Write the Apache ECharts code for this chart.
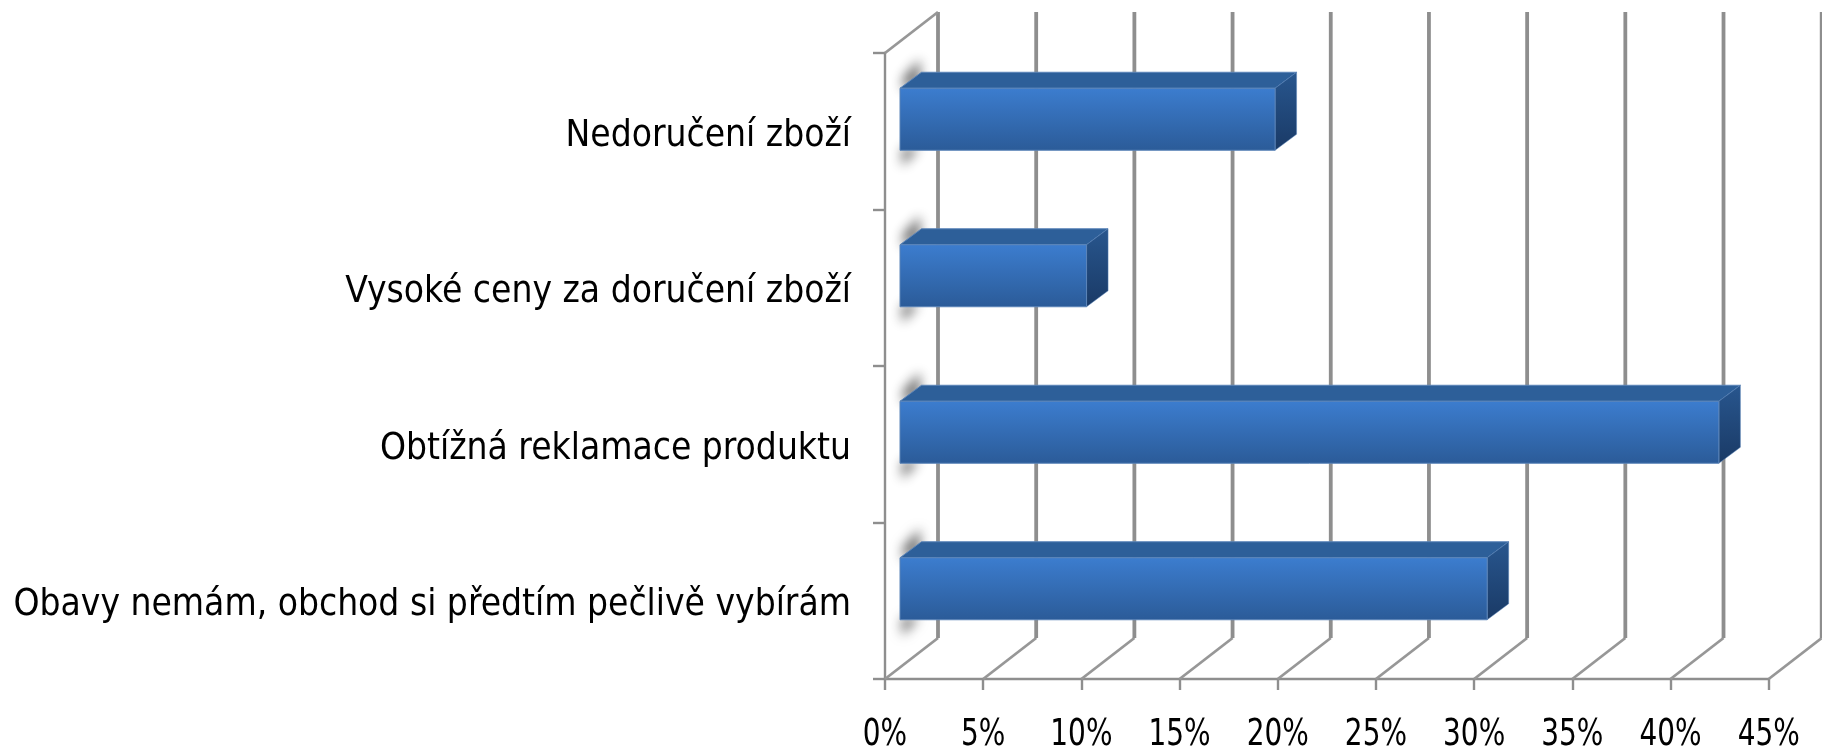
<!DOCTYPE html>
<html><head><meta charset="utf-8">
<style>html,body{margin:0;padding:0;background:#fff}#c{width:1822px;height:752px}</style>
<script src="https://cdn.jsdelivr.net/npm/echarts@6/dist/echarts.min.js"></script>
</head><body><div id="c"></div>
<script>
const categories = ['Obavy nemám, obchod si předtím pečlivě vybírám','Obtížná reklamace produktu','Vysoké ceny za doručení zboží','Nedoručení zboží'];
const values = [29.9, 41.7, 9.5, 19.1];
const xTicks = [0,5,10,15,20,25,30,35,40,45];

const WALL_DX = 53, WALL_DY = -41;      // depth of the pseudo-3D back wall
const BAR_DX = 15, BAR_DY = -12;        // bars sit inside that depth
const TOP_DX = 21.5, TOP_DY = -16;      // depth of each bar
const BAR_H = 62;
const GRID = '#8e8e8e';
const FONT = '"DejaVu Sans Condensed"';
const OFF = 3000;                       // shape off-canvas, only its blurred shadow shows

const chart = echarts.init(document.getElementById('c'));

function wall(params, api) {
  const v = api.value(0);
  const p = api.coord([v, 0]);
  const top = api.coord([v, 3]);
  const band = api.size([0, 1])[1];
  const x = p[0], yBottom = p[1] + band / 2, yTop = top[1] - band / 2;
  const children = [
    {type:'line',shape:{x1:x,y1:yBottom,x2:x+WALL_DX,y2:yBottom+WALL_DY},style:{stroke:'#979797',lineWidth:2.8}},
    {type:'line',shape:{x1:x+WALL_DX,y1:yBottom+WALL_DY,x2:x+WALL_DX,y2:yTop+WALL_DY},style:{stroke:GRID,lineWidth:3.8}},
    {type:'text',x:x,y:yBottom+56,scaleX:0.84,originX:0,originY:0,
      style:{text:v+'%',x:0,y:0,align:'center',verticalAlign:'middle',fill:'#000',font:'37px '+FONT}}
  ];
  if (v === 0) {
    children.push({type:'line',shape:{x1:x,y1:yTop,x2:x+WALL_DX,y2:yTop+WALL_DY},style:{stroke:'#979797',lineWidth:2.8}});
  }
  return {type:'group',children};
}

function bar(params, api) {
  const idx = api.value(1);
  const s = api.coord([0, idx]);
  const e = api.coord([api.value(0), idx]);
  const x0 = s[0] + BAR_DX, x1 = e[0] + BAR_DX;
  const yc = s[1] + BAR_DY, y0 = yc - BAR_H/2, y1 = yc + BAR_H/2;
  const vert = (a,b)=>({type:'linear',x:0,y:0,x2:0,y2:1,colorStops:[{offset:0,color:a},{offset:1,color:b}]});
  const soft = {fill:'#000',shadowBlur:12,shadowOffsetX:OFF,shadowColor:'rgba(105,105,105,0.95)'};
  const shifted = pts=>pts.map(q=>[q[0]-OFF,q[1]]);
  return {type:'group',children:[
    {type:'polygon',shape:{points:shifted([[x0+3,y0+2],[x0+3,y0-11],[x0+20,y0-29],[x0+20,y0-6]])},style:soft},
    {type:'polygon',shape:{points:shifted([[x0+2,y1-2],[x0+19,y1-2],[x0+2,y1+16]])},style:soft},
    {type:'polygon',shape:{points:[[x0,y0],[x0+TOP_DX,y0+TOP_DY],[x1+TOP_DX,y0+TOP_DY],[x1,y0]]},
      style:{fill:'#2d5f99',stroke:'#5b84b8',lineWidth:1}},
    {type:'polygon',shape:{points:[[x1,y0],[x1+TOP_DX,y0+TOP_DY],[x1+TOP_DX,y1+TOP_DY],[x1,y1]]},
      style:{fill:vert('#28568e','#1a3a66'),stroke:'#5b84b8',lineWidth:0.5}},
    {type:'rect',shape:{x:x0,y:y0,width:x1-x0,height:BAR_H},
      style:{fill:vert('#3c7dcf','#2b5b98'),stroke:'#5b84b8',lineWidth:1}}
  ]};
}

chart.setOption({
  animation:false,
  backgroundColor:'#fff',
  grid:{left:885,top:53,width:883.7,height:626,containLabel:false},
  xAxis:{type:'value',min:0,max:45,interval:5,
    axisLine:{show:true,lineStyle:{color:GRID,width:2.4}},
    axisTick:{show:true,length:11,lineStyle:{color:GRID,width:2.4}},
    splitLine:{show:false},
    axisLabel:{show:false}},
  yAxis:{type:'category',data:categories,
    axisLine:{show:true,onZero:false,lineStyle:{color:GRID,width:2.4}},
    axisTick:{show:true,length:12,alignWithLabel:false,lineStyle:{color:GRID,width:2.4}},
    axisLabel:{color:'#000',fontFamily:FONT,fontSize:36.8,margin:34,interval:0,verticalAlign:'top',lineHeight:10}},
  series:[
    {type:'custom',name:'wall',coordinateSystem:'cartesian2d',clip:false,z:1,silent:true,
      encode:{x:0,y:1},data:xTicks.map(t=>[t,0]),renderItem:wall},
    {type:'custom',name:'bars',coordinateSystem:'cartesian2d',clip:false,z:2,silent:true,
      encode:{x:0,y:1},data:values.map((v,i)=>[v,i]),renderItem:bar}
  ]
});
</script></body></html>
